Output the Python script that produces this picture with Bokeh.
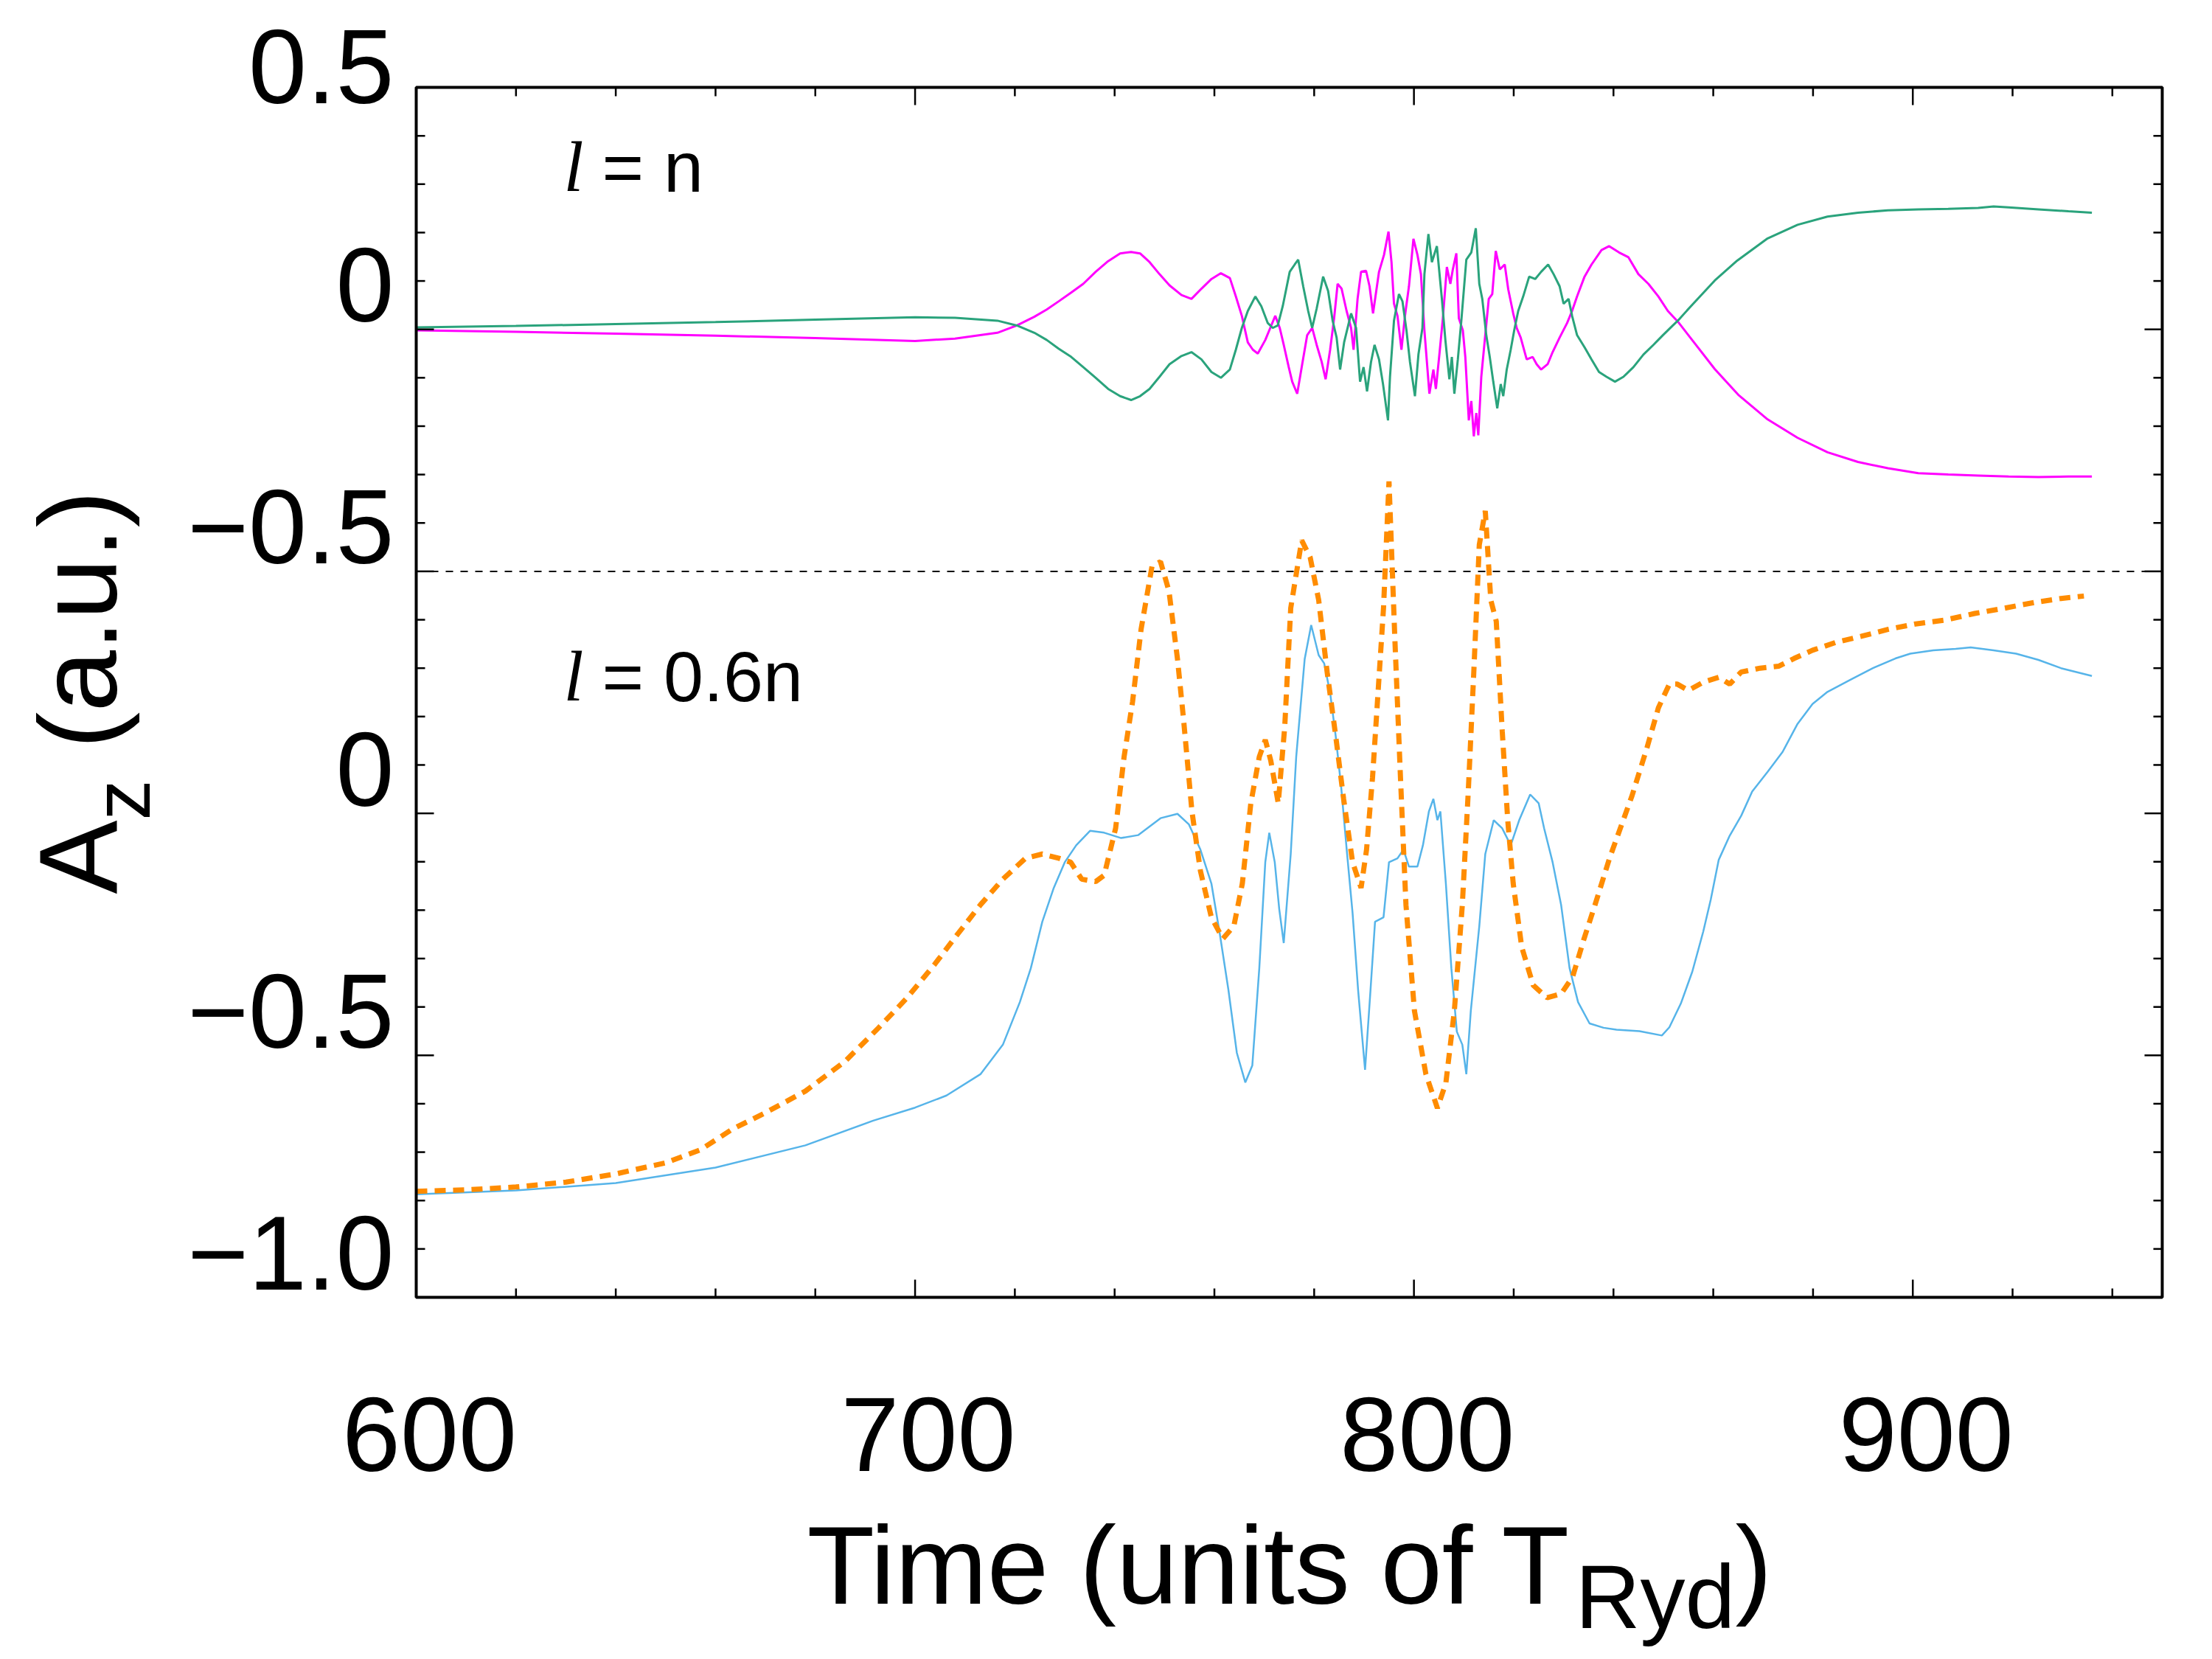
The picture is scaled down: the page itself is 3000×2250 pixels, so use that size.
import math
import numpy as np
from bokeh.plotting import figure
from bokeh.models import Range1d, Label
from bokeh.embed import file_html
from bokeh.resources import INLINE

# ---------------- data ----------------
# upper panel (l = n), values in that panel's own units (its zero sits at 1.0 of the shared axis)
top_offset = 1.0
magenta_pts = [
    (600, -0.002), (620, -0.005), (640, -0.009), (660, -0.013), (680, -0.018), (700, -0.024),
    (708, -0.019), (716.5, -0.007), (720.4, 0.008), (723.9, 0.026), (726.4, 0.041), (728.8, 0.058),
    (731.3, 0.076), (733.7, 0.094), (736.2, 0.119), (738.7, 0.141), (741.1, 0.157), (743.3, 0.160),
    (745.1, 0.157), (747.0, 0.139), (749.0, 0.114), (751.0, 0.091), (753.4, 0.071), (755.4, 0.063),
    (757.4, 0.084), (759.4, 0.104), (761.3, 0.116), (763.1, 0.106), (764.3, 0.068), (765.5, 0.028),
    (766.7, -0.027), (767.7, -0.042), (768.7, -0.050), (770.2, -0.022), (771.2, 0.003), (772.2, 0.028),
    (773.1, 0.003), (773.9, -0.032), (774.9, -0.078), (775.6, -0.108), (776.6, -0.133), (777.6, -0.072),
    (778.6, -0.012), (779.6, 0.003), (780.5, -0.032), (781.5, -0.067), (782.3, -0.103), (783.2, -0.042),
    (784.0, 0.023), (784.7, 0.094), (785.5, 0.084), (786.5, 0.038), (787.4, 0.003), (787.9, -0.042),
    (788.7, 0.063), (789.4, 0.119), (790.4, 0.121), (791.1, 0.089), (791.8, 0.033), (793.0, 0.119),
    (794.0, 0.154), (794.9, 0.202), (795.5, 0.139), (796.0, 0.053), (796.7, 0.028), (797.5, -0.042),
    (798.2, 0.028), (799.0, 0.089), (799.9, 0.187), (800.7, 0.154), (801.4, 0.114), (802.1, -0.002),
    (803.1, -0.133), (803.9, -0.083), (804.4, -0.123), (805.1, -0.052), (805.8, 0.023), (806.6, 0.129),
    (807.3, 0.094), (807.8, 0.124), (808.5, 0.157), (809.0, 0.023), (809.8, -0.002), (810.3, -0.057),
    (811.0, -0.188), (811.5, -0.148), (812.0, -0.221), (812.5, -0.173), (812.9, -0.219), (813.5, -0.098),
    (814.2, -0.022), (815.0, 0.063), (815.7, 0.073), (816.4, 0.162), (817.2, 0.124), (818.2, 0.134),
    (818.9, 0.083), (819.9, 0.033), (820.6, 0.003), (821.4, -0.017), (822.6, -0.062), (823.8, -0.057),
    (824.6, -0.072), (825.5, -0.083), (826.8, -0.072), (827.8, -0.047), (829.2, -0.017), (830.7, 0.013),
    (831.7, 0.038), (832.7, 0.068), (834.2, 0.109), (835.6, 0.134), (837.6, 0.164), (839.1, 0.172),
    (841.1, 0.159), (843.0, 0.149), (845.0, 0.114), (847.0, 0.094), (849.0, 0.068), (850.9, 0.038),
    (852.9, 0.016), (856.0, -0.025), (860.3, -0.082), (865.0, -0.135), (870.9, -0.186), (876.9, -0.224),
    (882.9, -0.254), (889.0, -0.274), (895.0, -0.287), (901.1, -0.297), (907.1, -0.300), (913.1, -0.302),
    (919.2, -0.304), (925.2, -0.305), (931.2, -0.304), (935.9, -0.304),
]
green_pts = [
    (600, 0.004), (620, 0.007), (640, 0.011), (660, 0.015), (680, 0.020), (700, 0.025),
    (708, 0.024), (716.5, 0.018), (720.4, 0.008), (723.9, -0.007), (726.4, -0.022), (728.8, -0.040),
    (731.3, -0.057), (733.7, -0.078), (736.2, -0.100), (738.7, -0.123), (741.1, -0.138), (743.3, -0.146),
    (745.1, -0.138), (747.0, -0.123), (749.0, -0.098), (751.0, -0.072), (753.4, -0.055), (755.4, -0.047),
    (757.4, -0.062), (759.4, -0.088), (761.3, -0.100), (763.1, -0.083), (764.3, -0.042), (765.5, 0.003),
    (766.7, 0.038), (768.2, 0.068), (769.4, 0.048), (770.7, 0.013), (771.7, 0.003), (772.7, 0.008),
    (773.7, 0.048), (775.1, 0.119), (776.1, 0.134), (776.8, 0.144), (777.8, 0.089), (778.8, 0.038),
    (779.6, 0.003), (780.5, 0.043), (781.8, 0.109), (782.8, 0.079), (783.7, 0.018), (784.5, -0.017),
    (785.2, -0.083), (786.0, -0.027), (787.4, 0.033), (788.4, 0.003), (789.2, -0.108), (789.9, -0.078),
    (790.6, -0.128), (791.4, -0.067), (792.1, -0.032), (793.0, -0.062), (793.8, -0.113), (794.8, -0.188),
    (795.2, -0.098), (796.0, 0.018), (797.0, 0.073), (797.7, 0.058), (798.5, -0.002), (799.2, -0.067),
    (800.2, -0.138), (800.9, -0.052), (801.7, 0.003), (802.1, 0.114), (802.9, 0.197), (803.6, 0.139),
    (804.6, 0.172), (805.6, 0.063), (806.3, -0.022), (807.1, -0.103), (807.6, -0.057), (808.1, -0.133),
    (808.8, -0.062), (809.5, 0.018), (810.5, 0.144), (811.5, 0.159), (812.4, 0.209), (813.1, 0.094),
    (813.7, 0.063), (814.5, -0.012), (815.2, -0.057), (815.9, -0.108), (816.7, -0.163), (817.4, -0.113),
    (817.9, -0.138), (818.6, -0.083), (819.4, -0.042), (820.1, -0.002), (820.9, 0.038), (821.9, 0.068),
    (823.1, 0.109), (824.3, 0.104), (825.5, 0.119), (826.9, 0.134), (828.0, 0.114), (829.2, 0.089),
    (830.0, 0.053), (831.0, 0.063), (831.7, 0.028), (832.7, -0.012), (834.2, -0.037), (835.6, -0.062),
    (837.1, -0.088), (838.6, -0.098), (840.3, -0.108), (842.0, -0.098), (844.0, -0.078), (846.0, -0.052),
    (848.0, -0.032), (849.9, -0.012), (851.9, 0.008), (852.9, 0.018), (855.8, 0.051), (860.3, 0.101),
    (864.8, 0.142), (870.9, 0.188), (876.9, 0.216), (882.9, 0.233), (889.0, 0.241), (895.0, 0.246),
    (901.1, 0.248), (907.1, 0.249), (913.1, 0.251), (916.2, 0.254), (919.2, 0.252), (925.2, 0.248),
    (931.2, 0.244), (935.9, 0.241),
]
# lower panel (l = 0.6n), values on the shared axis
orange_pts = [
    (600, -0.781), (610, -0.778), (620, -0.772), (630, -0.762), (640, -0.745), (650, -0.722),
    (657, -0.695), (663.3, -0.653), (670.1, -0.618), (678.0, -0.574), (685.9, -0.513), (692.7, -0.443),
    (698.4, -0.381), (704.0, -0.311), (708.5, -0.250), (713.1, -0.189), (717.6, -0.136), (722.1, -0.093),
    (725.5, -0.084), (728.9, -0.093), (731.2, -0.101), (733.4, -0.136), (736.2, -0.141), (737.9, -0.128),
    (740.2, -0.031), (741.9, 0.117), (743.6, 0.231), (745.3, 0.380), (747.5, 0.511), (749.2, 0.520),
    (750.9, 0.459), (752.6, 0.319), (753.8, 0.196), (755.5, 0.004), (757.2, -0.119), (759.4, -0.215),
    (761.7, -0.259), (763.9, -0.233), (765.6, -0.145), (767.3, 0.021), (769.0, 0.117), (770.2, 0.152),
    (771.3, 0.109), (772.8, 0.021), (774.1, 0.179), (775.3, 0.424), (777.5, 0.564), (779.2, 0.529),
    (780.9, 0.441), (782.6, 0.292), (784.3, 0.161), (785.9, 0.030), (787.7, -0.101), (789.4, -0.154),
    (790.5, -0.075), (791.7, 0.074), (792.8, 0.249), (793.9, 0.424), (795.0, 0.686), (796.2, 0.354),
    (797.3, 0.074), (798.4, -0.189), (800.1, -0.408), (802.4, -0.539), (804.7, -0.609), (806.4, -0.557),
    (808.1, -0.408), (809.7, -0.189), (810.9, 0.047), (812.0, 0.292), (813.1, 0.555), (814.3, 0.625),
    (815.4, 0.441), (816.5, 0.397), (817.7, 0.170), (818.8, -0.014), (819.9, -0.145), (821.6, -0.276),
    (823.9, -0.355), (826.7, -0.381), (829.5, -0.373), (831.8, -0.338), (834.1, -0.259), (836.3, -0.189),
    (839.2, -0.093), (843.7, 0.036), (846.7, 0.135), (849.0, 0.218), (851.2, 0.267), (852.8, 0.267),
    (855.0, 0.254), (858.0, 0.271), (861.1, 0.281), (863.3, 0.267), (865.6, 0.292), (869.4, 0.300),
    (873.1, 0.304), (876.2, 0.320), (879.9, 0.337), (884.5, 0.353), (889.7, 0.366), (895.0, 0.380),
    (900.3, 0.391), (906.3, 0.399), (912.4, 0.413), (918.4, 0.424), (924.5, 0.436), (929.7, 0.444),
    (934.3, 0.449),
]
blue_pts = [
    (600, -0.787), (620, -0.779), (640, -0.764), (660, -0.732), (678.0, -0.686), (691.6, -0.635),
    (700, -0.608), (706.3, -0.583), (713.1, -0.539), (717.6, -0.478), (721.0, -0.390), (723.2, -0.320),
    (725.5, -0.224), (727.8, -0.154), (730.0, -0.101), (732.3, -0.066), (735.1, -0.036), (737.9, -0.040),
    (741.3, -0.051), (744.7, -0.045), (749.2, -0.010), (752.6, -0.001), (754.9, -0.023), (757.2, -0.075),
    (759.4, -0.145), (761.1, -0.250), (762.8, -0.364), (764.5, -0.495), (766.2, -0.556), (767.6, -0.521),
    (769.0, -0.320), (770.2, -0.101), (771.0, -0.040), (772.1, -0.101), (773.0, -0.198), (773.9, -0.268),
    (775.3, -0.084), (776.4, 0.117), (778.1, 0.319), (779.4, 0.389), (780.9, 0.327), (782.0, 0.310),
    (783.2, 0.249), (784.3, 0.161), (785.4, 0.056), (786.6, -0.084), (787.7, -0.206), (788.8, -0.364),
    (790.2, -0.530), (791.3, -0.364), (792.2, -0.224), (793.9, -0.215), (795.0, -0.101), (796.7, -0.093),
    (797.9, -0.075), (799.0, -0.110), (800.7, -0.110), (801.8, -0.066), (803.0, 0.004), (803.9, 0.030),
    (804.7, -0.014), (805.3, 0.004), (806.4, -0.145), (807.5, -0.320), (808.6, -0.451), (809.7, -0.478),
    (810.5, -0.539), (811.4, -0.408), (813.1, -0.233), (814.3, -0.084), (816.0, -0.014), (817.7, -0.031),
    (819.4, -0.066), (821.1, -0.014), (823.3, 0.039), (825.0, 0.021), (826.1, -0.031), (827.8, -0.101),
    (829.5, -0.189), (831.2, -0.320), (832.9, -0.390), (835.2, -0.434), (838.0, -0.443), (840.6, -0.447),
    (845.2, -0.450), (849.7, -0.459), (851.2, -0.442), (853.5, -0.393), (855.8, -0.327), (858.0, -0.244),
    (859.5, -0.178), (861.1, -0.096), (863.3, -0.046), (865.6, -0.005), (867.8, 0.045), (870.9, 0.086),
    (873.9, 0.127), (876.9, 0.185), (879.9, 0.226), (882.9, 0.251), (887.5, 0.276), (892.0, 0.300),
    (896.5, 0.320), (899.5, 0.330), (904.1, 0.337), (908.6, 0.340), (911.6, 0.343), (916.2, 0.337),
    (920.7, 0.330), (925.2, 0.317), (929.7, 0.300), (935.9, 0.284),
]

x_lim = (600, 950)
y_lim = (-1.0, 1.5)
x_major = [600, 700, 800, 900]
x_minor = [620, 640, 660, 680, 720, 740, 760, 780, 820, 840, 860, 880, 920, 940]
y_major = [-1.0, -0.5, 0.0, 0.5, 1.0, 1.5]
y_minor = [-0.9, -0.8, -0.7, -0.6, -0.4, -0.3, -0.2, -0.1, 0.1, 0.2, 0.3, 0.4,
           0.6, 0.7, 0.8, 0.9, 1.1, 1.2, 1.3, 1.4]
y_tick_pos = [1.5, 1.0, 0.5, 0.0, -0.5, -1.0]
y_tick_txt = ["0.5", "0", "\u22120.5", "0", "\u22120.5", "\u22121.0"]
x_tick_txt = ["600", "700", "800", "900"]
panel_sep = 0.5

# ---------------- layout ----------------
# The drawing area covers the whole canvas so that texts outside the boxed
# plot area are not clipped; the box itself sits at these canvas pixels.
W, H = 2984, 2234
BOX_L, BOX_R, BOX_T, BOX_B = 564, 2932, 118, 1759
sx = (BOX_R - BOX_L) / (x_lim[1] - x_lim[0])
sy = (BOX_B - BOX_T) / (y_lim[1] - y_lim[0])
xr = Range1d(x_lim[0] - BOX_L / sx, x_lim[1] + (W - BOX_R) / sx)
yr = Range1d(y_lim[0] - (H - BOX_B) / sy, y_lim[1] + BOX_T / sy)

FONT = "Liberation Sans"
p = figure(width=W, height=H, output_backend="svg", toolbar_location=None,
           x_range=xr, y_range=yr, x_axis_location=None, y_axis_location=None,
           min_border=0)
p.grid.visible = False
p.outline_line_color = None
p.background_fill_color = "white"
p.border_fill_color = "white"

# separator between panels
p.line(list(x_lim), [panel_sep, panel_sep], line_color="black", line_width=2,
       line_dash="10 10")

# curves
mt, mv = zip(*magenta_pts)
gt, gv = zip(*green_pts)
ot, ov = zip(*orange_pts)
bt, bv = zip(*blue_pts)
p.line(list(mt), list(np.array(mv) + top_offset), line_color="#ff00ff", line_width=3)
p.line(list(gt), list(np.array(gv) + top_offset), line_color="#2aa37c", line_width=3)
p.line(list(bt), list(bv), line_color="#56b4e9", line_width=2.5)
p.line(list(ot), list(ov), line_color="#ff8c00", line_width=7, line_dash="15 10")

# box
p.quad(left=[x_lim[0]], right=[x_lim[1]], bottom=[y_lim[0]], top=[y_lim[1]],
       fill_color=None, line_color="black", line_width=4)

# inward ticks on all four sides
tick_kw = dict(length_units="screen", line_color="black", line_width=2.5)
for ticks, ln in [(x_major, 24), (x_minor, 12)]:
    p.ray(x=ticks, y=[y_lim[0]] * len(ticks), length=ln, angle=math.pi / 2, **tick_kw)
    p.ray(x=ticks, y=[y_lim[1]] * len(ticks), length=ln, angle=-math.pi / 2, **tick_kw)
for ticks, ln in [(y_major, 24), (y_minor, 12)]:
    p.ray(x=[x_lim[0]] * len(ticks), y=ticks, length=ln, angle=0.0, **tick_kw)
    p.ray(x=[x_lim[1]] * len(ticks), y=ticks, length=ln, angle=math.pi, **tick_kw)

# y tick labels (drawn a little above their ticks, as in the original)
for pos, txt in zip(y_tick_pos, y_tick_txt):
    dy = 28 if pos == y_lim[1] else 60
    p.add_layout(Label(x=x_lim[0], y=pos, x_offset=-30, y_offset=dy, text=txt,
                       text_align="right", text_baseline="alphabetic",
                       text_font=FONT, text_font_size="142px", text_color="black"))
# x tick labels
for pos, txt in zip(x_major, x_tick_txt):
    p.add_layout(Label(x=pos, y=y_lim[0], x_offset=18, y_offset=-186, text=txt,
                       text_align="center", text_baseline="alphabetic",
                       text_font=FONT, text_font_size="142px", text_color="black"))

# x axis title: Time (units of T_Ryd)
for txt, dx, dy, fs in [("Time (units of T", 530, -363, "150px"),
                        ("Ryd", 1572, -406, "122px"),
                        (")", 1789, -363, "150px")]:
    p.add_layout(Label(x=x_lim[0], y=y_lim[0], x_offset=dx, y_offset=dy, text=txt,
                       text_align="left", text_baseline="alphabetic",
                       text_font=FONT, text_font_size=fs, text_color="black"))

# y axis title: A_z (a.u.)
for txt, dx, dy, fs in [("A", -459, 547, "150px"),
                        ("z", -400, 647, "110px"),
                        ("(a.u.)", -459, 744, "150px")]:
    p.add_layout(Label(x=x_lim[0], y=y_lim[0], x_offset=dx, y_offset=dy, text=txt,
                       angle=math.pi / 2, text_align="left", text_baseline="alphabetic",
                       text_font=FONT, text_font_size=fs, text_color="black"))

# panel annotations
for dy, rest in [(-108, "= n"), (-799, "= 0.6n")]:
    p.add_layout(Label(x=x_lim[0], y=y_lim[1], x_offset=200, y_offset=dy, text="l",
                       text_align="left", text_baseline="alphabetic",
                       text_font="Liberation Serif", text_font_style="italic",
                       text_font_size="97px", text_color="black"))
    p.add_layout(Label(x=x_lim[0], y=y_lim[1], x_offset=252, y_offset=dy, text=rest,
                       text_align="left", text_baseline="alphabetic",
                       text_font=FONT, text_font_size="97px", text_color="black"))

open("out.html", "w").write(file_html(p, INLINE))
